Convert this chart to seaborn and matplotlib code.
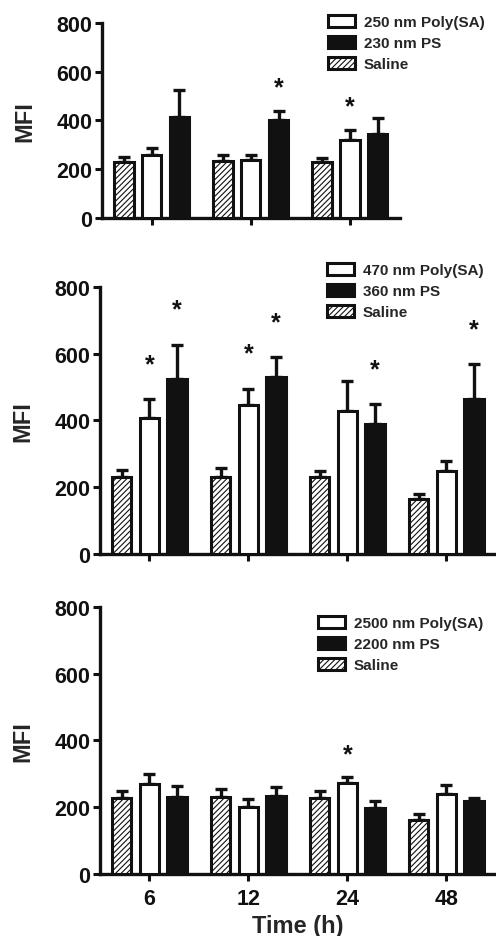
import matplotlib
matplotlib.use("Agg")
import matplotlib.pyplot as plt
from matplotlib.patches import Patch
import numpy as np
import pandas as pd
import seaborn as sns

times = ["6", "12", "24", "48"]
groups = ["Saline", "Poly", "PS"]

# top panel (no 48 h)
a_labels = ["250 nm Poly(SA)", "230 nm PS"]
a_saline = [229, 232, 229]
a_saline_err = [23, 27, 19]
a_poly = [257, 238, 318]
a_poly_err = [30, 19, 41]
a_ps = [414, 400, 345]
a_ps_err = [112, 38, 65]
a_stars = [("12", "PS"), ("24", "Poly")]

# middle panel
b_labels = ["470 nm Poly(SA)", "360 nm PS"]
b_saline = [230, 232, 230, 165]
b_saline_err = [22, 26, 18, 15]
b_poly = [407, 445, 427, 250]
b_poly_err = [56, 50, 91, 28]
b_ps = [525, 530, 390, 463]
b_ps_err = [102, 60, 58, 105]
b_stars = [("6", "Poly"), ("6", "PS"), ("12", "Poly"), ("12", "PS"), ("24", "PS"), ("48", "PS")]

# bottom panel
c_labels = ["2500 nm Poly(SA)", "2200 nm PS"]
c_saline = [228, 230, 228, 163]
c_saline_err = [22, 25, 20, 16]
c_poly = [270, 202, 273, 240]
c_poly_err = [28, 23, 17, 28]
c_ps = [230, 235, 198, 218]
c_ps_err = [35, 27, 22, 9]
c_stars = [("24", "Poly")]

sns.set_style("ticks")
plt.rcParams["font.family"] = ["Liberation Sans", "DejaVu Sans"]
plt.rcParams["font.weight"] = "bold"
plt.rcParams["axes.labelweight"] = "bold"
plt.rcParams["hatch.linewidth"] = 0.8

ink = "#111111"


def draw_panel(ax, tt, saline, saline_err, poly, poly_err, ps, ps_err, labels, stars, star_off, leg_xy):
    n = len(tt)
    df = pd.DataFrame({
        "time": tt * 3,
        "group": ["Saline"] * n + ["Poly"] * n + ["PS"] * n,
        "mfi": saline + poly + ps,
    })
    errs = {"Saline": saline_err, "Poly": poly_err, "PS": ps_err}
    sns.barplot(data=df, x="time", y="mfi", hue="group", order=tt, hue_order=groups,
                palette={"Saline": "white", "Poly": "white", "PS": ink},
                width=0.84, gap=0.3, edgecolor=ink, linewidth=2.2, errorbar=None,
                legend=False, ax=ax, zorder=3)
    for g, cont in zip(groups, ax.containers):
        xs = [b.get_x() + b.get_width() / 2 for b in cont]
        hs = [b.get_height() for b in cont]
        if g == "Saline":
            for b in cont:
                b.set_hatch("//////")
        ax.errorbar(xs, hs, yerr=[np.zeros(n), errs[g]], fmt="none", ecolor=ink,
                    elinewidth=2.4, capsize=4, capthick=2.4, zorder=2)
        for (t, s) in stars:
            if s == g:
                i = tt.index(t)
                ax.text(xs[i], hs[i] + errs[g][i] + star_off, "*", ha="center", va="center",
                        fontsize=18, color=ink)
    ax.set_xlim(-0.5, n - 0.5)
    ax.set_ylim(0, 800)
    ax.set_yticks([0, 200, 400, 600, 800])
    ax.set_ylabel("MFI", fontsize=17, labelpad=14)
    ax.set_xlabel("")
    sns.despine(ax=ax)
    for sp in ["left", "bottom"]:
        ax.spines[sp].set_linewidth(2.4)
        ax.spines[sp].set_color(ink)
    ax.tick_params(width=2.2, length=5, labelsize=15.5, colors=ink, pad=2)
    ax.tick_params(axis="x", pad=5)
    handles = [
        Patch(facecolor="white", edgecolor=ink, linewidth=2.2, label=labels[0]),
        Patch(facecolor=ink, edgecolor=ink, linewidth=2.2, label=labels[1]),
        Patch(facecolor="white", edgecolor=ink, linewidth=2.2, hatch="//////", label="Saline"),
    ]
    ax.legend(handles=handles, loc="upper left", bbox_to_anchor=leg_xy,
              bbox_transform=fig.transFigure, frameon=False, borderpad=0,
              borderaxespad=0, handlelength=1.75, handleheight=0.8, handletextpad=0.6,
              labelspacing=0.45, prop={"size": 11, "weight": "bold"})


fig = plt.figure(figsize=(4.96, 9.37), dpi=100)
ax1 = fig.add_axes([0.2056, 0.7663, 0.600, 0.2081])
ax2 = fig.add_axes([0.2016, 0.4077, 0.798, 0.2850])
ax3 = fig.add_axes([0.2016, 0.0662, 0.798, 0.2850])

draw_panel(ax1, times[:3], a_saline, a_saline_err, a_poly, a_poly_err, a_ps, a_ps_err,
           a_labels, a_stars, 100, (328 / 496, 1 - 16 / 937))
draw_panel(ax2, times, b_saline, b_saline_err, b_poly, b_poly_err, b_ps, b_ps_err,
           b_labels, b_stars, 105, (327 / 496, 1 - 264 / 937))
draw_panel(ax3, times, c_saline, c_saline_err, c_poly, c_poly_err, c_ps, c_ps_err,
           c_labels, c_stars, 67, (318 / 496, 1 - 617 / 937))

ax1.set_xticklabels([])
ax2.set_xticklabels([])
ax3.set_xlabel("Time (h)", fontsize=17, labelpad=4)

fig.savefig("out.png", dpi=100)
